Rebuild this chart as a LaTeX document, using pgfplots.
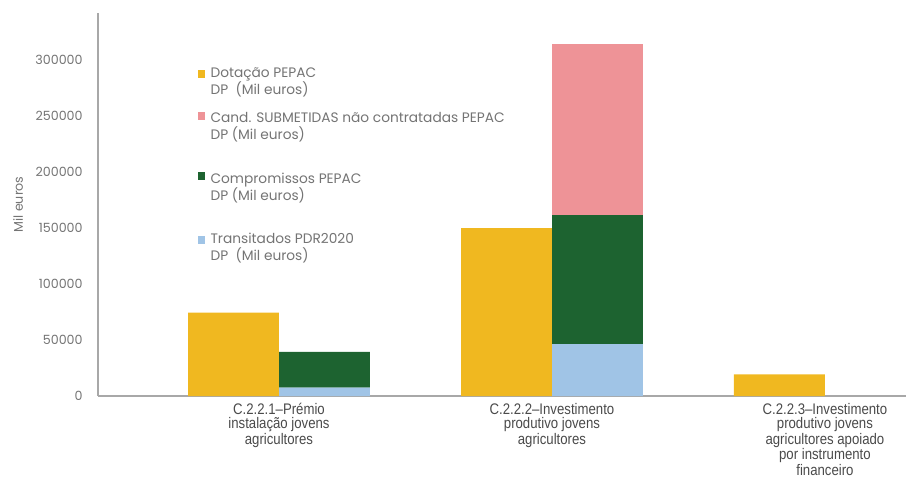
\documentclass[border=0pt]{standalone}
\usepackage{fontspec}
\setmainfont{Poppins}
\newfontfamily\condfont[FakeStretch=0.86]{Liberation Sans}
\usepackage{pgfplots}
\pgfplotsset{compat=1.18}
\definecolor{cYellow}{HTML}{F0B820}
\definecolor{cPink}{HTML}{EE9397}
\definecolor{cGreen}{HTML}{1D6330}
\definecolor{cBlue}{HTML}{A0C4E6}
\definecolor{txtgray}{HTML}{747474}
\definecolor{catgray}{HTML}{4A4A4A}
\definecolor{axgray}{HTML}{A8A8A8}
\begin{document}
\begin{tikzpicture}
\pgfplotsset{
  base/.style={scale only axis, width=606pt, height=287.25pt,
    at={(0pt,0pt)}, anchor=south west,
    xmin=-0.663, xmax=2.297, ymin=0, ymax=342000, bar width=0.333},
}
\begin{axis}[base,
  axis x line*=bottom, axis y line*=left,
  axis line style={draw=axgray, line width=0.8pt},
  major tick length=0pt,
  xtick={0,1,2},
  xticklabels={{C.2.2.1–Prémio\\instalação jovens\\agricultores},
               {C.2.2.2–Investimento\\produtivo jovens\\agricultores},
               {C.2.2.3–Investimento\\produtivo jovens\\agricultores apoiado\\por instrumento\\financeiro}},
  xticklabel style={align=center, font=\condfont\fontsize{11.5}{10.6}\selectfont, text=catgray, yshift=-2pt},
  ytick={0,50000,100000,150000,200000,250000,300000},
  scaled y ticks=false,
  yticklabel style={/pgf/number format/fixed, /pgf/number format/1000 sep={},
    /pgf/number format/assume math mode=true,
    font=\fontsize{9.5}{10}\selectfont, text=txtgray, xshift=-8pt},
  ylabel={Mil euros},
  every axis y label/.style={at={(axis description cs:-0.099,0.5)}, rotate=90, anchor=center,
    font=\fontsize{9.5}{10}\selectfont, text=txtgray},
]
\addplot[ybar, bar shift=0pt, fill=cYellow, draw=none] coordinates {(-0.1667,74500) (0.8333,150000) (1.8333,19400)};
\end{axis}
\begin{axis}[base, hide axis, ybar stacked,
  legend cell align=left,
  legend style={at={(0.118,0.868)}, anchor=north west, draw=none, fill=none,
    font=\fontsize{10.3}{12.75}\selectfont, text=txtgray, row sep=10pt,
    nodes={align=left, inner sep=1pt}},
]
\addlegendimage{legend image code/.code={\path[draw=none,fill=none] (-2.5pt,3.6pt) rectangle (6pt,3.6pt);\fill[cYellow] (-2.5pt,3.6pt) rectangle (2.5pt,9.1pt);}}
\addlegendentry{Dotação PEPAC\\DP\ \ (Mil euros)}
\addlegendimage{legend image code/.code={\path[draw=none,fill=none] (-2.5pt,11.5pt) rectangle (6pt,11.5pt);\fill[cPink] (-2.5pt,11.5pt) rectangle (2.5pt,17pt);}}
\addlegendentry{Cand. SUBMETIDAS não contratadas PEPAC\\DP (Mil euros)\\[-1.5pt]~}
\addlegendimage{legend image code/.code={\path[draw=none,fill=none] (-2.5pt,11.5pt) rectangle (6pt,11.5pt);\fill[cGreen] (-2.5pt,11.5pt) rectangle (2.5pt,17pt);}}
\addlegendentry{Compromissos PEPAC\\DP (Mil euros)\\[-1.5pt]~}
\addlegendimage{legend image code/.code={\path[draw=none,fill=none] (-2.5pt,3.6pt) rectangle (6pt,3.6pt);\fill[cBlue] (-2.5pt,3.6pt) rectangle (2.5pt,9.1pt);}}
\addlegendentry{Transitados PDR2020\\DP\ \ (Mil euros)}
\addplot[fill=cBlue, draw=none, forget plot] coordinates {(0.1667,7500) (1.1667,46400) (2.1667,0)};
\addplot[fill=cGreen, draw=none, forget plot] coordinates {(0.1667,32000) (1.1667,115200) (2.1667,0)};
\addplot[fill=cPink, draw=none, forget plot] coordinates {(0.1667,0) (1.1667,152700) (2.1667,0)};
\end{axis}
\pgfresetboundingbox
\path (-73.5pt,-64.5pt) rectangle (606pt,297pt);
\end{tikzpicture}
\end{document}
